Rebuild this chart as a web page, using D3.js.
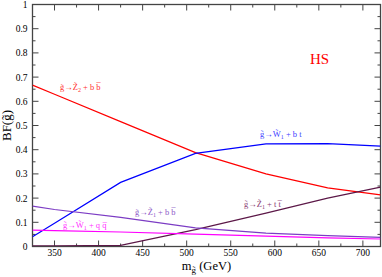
<!DOCTYPE html>
<html>
<head>
<meta charset="utf-8">
<script src="https://cdn.jsdelivr.net/npm/d3@7"></script>
<style>
  body { margin: 0; background: #fff; }
  svg text { font-family: "Liberation Serif", "Times New Roman", "DejaVu Serif", serif; }
</style>
</head>
<body>
<div id="chart"></div>
<script>
// gluino mass points (GeV)
const masses = [325, 350, 425, 510, 590, 660, 720];

// branching fractions
const bfZ2bb = [0.667, 0.629, 0.516, 0.388, 0.300, 0.242, 0.213];
const bfW1bt = [0.040, 0.096, 0.265, 0.385, 0.424, 0.425, 0.415];
const bfZ1tt = [0.003, 0.003, 0.005, 0.070, 0.138, 0.200, 0.245];
const bfZ1bb = [0.167, 0.153, 0.120, 0.077, 0.055, 0.045, 0.038];
const bfW1qq = [0.068, 0.066, 0.060, 0.051, 0.043, 0.036, 0.031];

const xTicks = [350, 400, 450, 500, 550, 600, 650, 700];
const yTicks = [0, 0.1, 0.2, 0.3, 0.4, 0.5, 0.6, 0.7, 0.8, 0.9, 1];

// label pieces: before subscript, subscript, after
const series = [
  { name: "Z2bb", vals: bfZ2bb, color: "#ff0000", txt: "#ff3030", lab: ["g\u0303\u2192Z\u0303", "2", " + b b\u0305"], lx: 60, ly: 90 },
  { name: "W1bt", vals: bfW1bt, color: "#0000ff", txt: "#4040ff", lab: ["g\u0303\u2192W\u0303", "1", " + b t"], lx: 260, ly: 136.5 },
  { name: "Z1tt", vals: bfZ1tt, color: "#5c1848", txt: "#8a3a72", lab: ["g\u0303\u2192Z\u0303", "1", " + t t\u0305"], lx: 244, ly: 206.5 },
  { name: "Z1bb", vals: bfZ1bb, color: "#7c3cc4", txt: "#8e58c8", lab: ["g\u0303\u2192Z\u0303", "1", " + b b\u0305"], lx: 135, ly: 215 },
  { name: "W1qq", vals: bfW1qq, color: "#ff00ff", txt: "#ff30ff", lab: ["g\u0303\u2192W\u0303", "1", " + q q\u0305"], lx: 63, ly: 227.5 }
];

const W = 382, H = 277;
const margin = { top: 4.5, right: 1.5, bottom: 30.5, left: 32.5 };
const width = W - margin.left - margin.right,
  height = H - margin.top - margin.bottom;

const svg = d3.select("#chart").append("svg")
  .attr("width", W)
  .attr("height", H);

const g = svg.append("g")
  .attr("transform", "translate(" + margin.left + "," + margin.top + ")");

const x = d3.scaleLinear().domain([325, 720]).range([0, width]);
const y = d3.scaleLinear().domain([0, 1]).range([height, 0]);

svg.append("clipPath").attr("id", "clip")
  .append("rect").attr("y", -1).attr("width", width).attr("height", height + 1);

// ticks, all pointing inwards
const axisColor = "#444";
const xMinor = d3.range(325, 721, 25);
const yMinor = d3.range(0, 1.001, 0.05);

function tickLen(v, majors, eps) {
  return majors.some(m => Math.abs(m - v) < eps) ? 6 : 3;
}

g.selectAll(".xt-b").data(xMinor).join("line")
  .attr("x1", d => x(d)).attr("x2", d => x(d))
  .attr("y1", height).attr("y2", d => height - tickLen(d, xTicks, 0.1))
  .attr("stroke", axisColor).attr("stroke-width", 1);
g.selectAll(".xt-t").data(xMinor).join("line")
  .attr("x1", d => x(d)).attr("x2", d => x(d))
  .attr("y1", 0).attr("y2", d => tickLen(d, xTicks, 0.1))
  .attr("stroke", axisColor).attr("stroke-width", 1);
g.selectAll(".yt-l").data(yMinor).join("line")
  .attr("y1", d => y(d)).attr("y2", d => y(d))
  .attr("x1", 0).attr("x2", d => tickLen(d, yTicks, 0.001))
  .attr("stroke", axisColor).attr("stroke-width", 1);
g.selectAll(".yt-r").data(yMinor).join("line")
  .attr("y1", d => y(d)).attr("y2", d => y(d))
  .attr("x1", width).attr("x2", d => width - tickLen(d, yTicks, 0.001))
  .attr("stroke", axisColor).attr("stroke-width", 1);

// tick labels
g.selectAll(".xl").data(xTicks).join("text")
  .attr("x", d => x(d)).attr("y", height + 9.5)
  .attr("text-anchor", "middle")
  .style("font-size", "9.5px")
  .text(d => d);
g.selectAll(".yl").data(yTicks).join("text")
  .attr("x", -5).attr("y", d => y(d) + 3.5)
  .attr("text-anchor", "end")
  .style("font-size", "9.5px")
  .text(d => d);

// frame
g.append("rect")
  .attr("width", width).attr("height", height)
  .attr("fill", "none")
  .attr("stroke", axisColor)
  .attr("stroke-width", 1.3);

// curves
const line = d3.line()
  .x((d, i) => x(masses[i]))
  .y(d => y(d));

g.append("g").attr("clip-path", "url(#clip)")
  .selectAll("path").data(series).join("path")
  .attr("fill", "none")
  .attr("stroke", d => d.color)
  .attr("stroke-width", 1.2)
  .attr("d", d => line(d.vals));

// curve labels
series.forEach(s => {
  const t = svg.append("text")
    .attr("x", s.lx).attr("y", s.ly)
    .attr("fill", s.txt)
    .style("font-size", "8.5px");
  t.append("tspan").text(s.lab[0]);
  t.append("tspan").attr("baseline-shift", "-25%").style("font-size", "6px").text(s.lab[1]);
  t.append("tspan").text(s.lab[2]);
});

// HS
svg.append("text")
  .attr("x", 310).attr("y", 63.5)
  .attr("fill", "#ff0000")
  .style("font-size", "15px")
  .text("HS");

// axis titles
const xt = svg.append("text")
  .attr("x", margin.left + width / 2).attr("y", 269.5)
  .attr("text-anchor", "middle")
  .style("font-size", "12.5px");
xt.append("tspan").text("m");
xt.append("tspan").attr("baseline-shift", "-30%").style("font-size", "9px").text("g\u0303");
xt.append("tspan").text(" (GeV)");

svg.append("text")
  .attr("transform", "translate(11," + (margin.top + height / 2) + ") rotate(-90)")
  .attr("text-anchor", "middle")
  .style("font-size", "13px")
  .text("BF(g\u0303)");
</script>
</body>
</html>
